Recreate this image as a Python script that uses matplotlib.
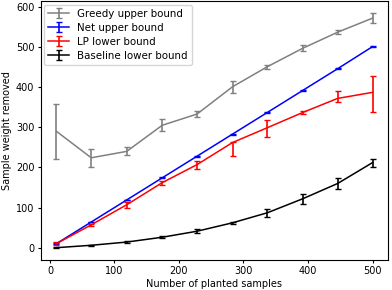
import matplotlib.pyplot as plt
import numpy as np

planted = [10, 64, 119, 174, 228, 283, 337, 392, 446, 500]

greedy = [290, 224, 240, 305, 333, 401, 451, 497, 537, 572]
greedy_err = [68, 22, 10, 15, 8, 15, 5, 8, 5, 13]

net = [10, 64, 119, 174, 228, 283, 337, 392, 446, 501]
net_err = [1, 1, 1, 1, 1, 1, 1, 1, 1, 1]

lp = [10, 57, 107, 162, 207, 262, 299, 337, 372, 387]
lp_err_low = [3, 3, 8, 5, 10, 34, 22, 4, 10, 48]
lp_err_high = [3, 3, 8, 5, 10, 2, 20, 4, 18, 40]

baseline = [0, 6, 14, 26, 41, 62, 87, 122, 160, 212]
baseline_err = [1, 1, 2, 3, 5, 3, 10, 12, 14, 10]

plt.rcParams['font.size'] = 7

fig = plt.figure(figsize=(3.92, 2.90), dpi=100)
ax = fig.add_axes([0.1036, 0.104, 0.887, 0.892])

kw = dict(capsize=2.3, elinewidth=1.2, capthick=1.0, linewidth=1.1)
ax.errorbar(planted, greedy, yerr=greedy_err, color='gray', label='Greedy upper bound', **kw)
ax.errorbar(planted, net, yerr=net_err, color='b', label='Net upper bound', **kw)
ax.errorbar(planted, lp, yerr=[lp_err_low, lp_err_high], color='r', label='LP lower bound', **kw)
ax.errorbar(planted, baseline, yerr=baseline_err, color='k', label='Baseline lower bound', **kw)

ax.set_xlabel("Number of planted samples", labelpad=2)
ax.set_ylabel("Sample weight removed", labelpad=3)
ax.set_xticks([0, 100, 200, 300, 400, 500])
ax.set_yticks([0, 100, 200, 300, 400, 500, 600])
ax.tick_params(length=2.5, pad=2)
ax.legend(loc='upper left', borderaxespad=0.35, handlelength=2.0,
          labelspacing=0.38, fontsize=7.4)

plt.savefig("out.png", dpi=100)
